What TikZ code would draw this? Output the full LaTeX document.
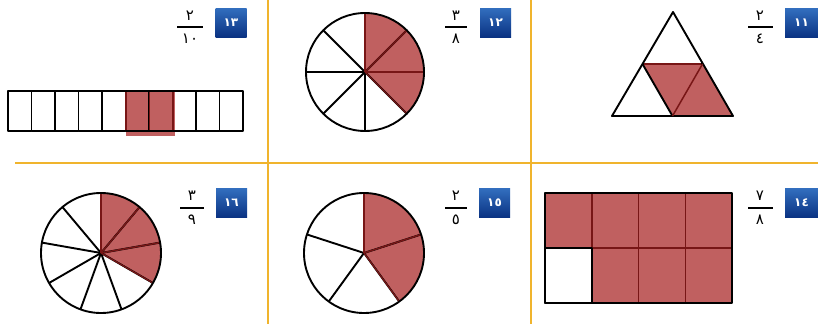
\documentclass[tikz,border=0pt]{standalone}
\usepackage{fontspec}
\newfontfamily\arabicfont[Script=Arabic]{DejaVu Sans}
\definecolor{gold}{RGB}{240,180,45}
\definecolor{fracred}{RGB}{192,96,96}
\definecolor{dred}{RGB}{120,22,22}
\definecolor{btop}{RGB}{50,110,190}
\definecolor{bbot}{RGB}{10,50,130}
\tikzset{
  figline/.style={line width=1.9pt, line join=round},
  redline/.style={line width=1.5pt, draw=dred},
  goldline/.style={line width=2.8pt, draw=gold},
  badge/.style={draw=none, top color=btop, bottom color=bbot, minimum width=31pt,
    minimum height=29pt, inner sep=0pt, text=white,
    font=\arabicfont\bfseries\fontsize{12}{12}\selectfont},
  num/.style={font=\arabicfont\fontsize{15}{15}\selectfont, inner sep=0pt},
  fracbar/.style={line width=1.3pt},
}
\begin{document}
\begin{tikzpicture}[x=1pt,y=-1pt]
\useasboundingbox (0,0) rectangle (818,324);
\fill[white] (0,0) rectangle (818,324);

% grid lines
\draw[goldline] (15,163) -- (818,163);
\draw[goldline] (268,0) -- (268,324);
\draw[goldline] (531,0) -- (531,324);

% badges
\node[badge] (b13) at (231,22.5) {١٣};
\node[badge] (b12) at (495.5,22.5) {١٢};
\node[badge, minimum width=33pt] (b11) at (801.5,23) {١١};
\node[badge] (b16) at (231.5,203) {١٦};
\node[badge] (b15) at (494.5,203) {١٥};
\node[badge, minimum width=33pt] (b14) at (801.5,203) {١٤};

% fractions
\node[num] (n13) at (190,16) {٢};
\draw[fracbar] (177,27) -- (203,27);
\node[num] (d13) at (190,38.5) {١٠};
\node[num] (n12) at (456,16) {٣};
\draw[fracbar] (445,27) -- (467,27);
\node[num] (d12) at (456,38.5) {٨};
\node[num] (n11) at (760,16) {٢};
\draw[fracbar] (748,27) -- (773,27);
\node[num] (d11) at (760,38.5) {٤};
\node[num] (n16) at (192,196) {٣};
\draw[fracbar] (180,208) -- (204,208);
\node[num] (d16) at (192,220) {٩};
\node[num] (n15) at (456,196) {٢};
\draw[fracbar] (445,208) -- (467,208);
\node[num] (d15) at (456,220) {٥};
\node[num] (n14) at (760,196) {٧};
\draw[fracbar] (748,208) -- (773,208);
\node[num] (d14) at (760,220) {٨};

% 13: strip of ten
\fill[fracred] (126,91) rectangle (175,136);
\foreach \i in {0,...,9} {
  \draw[figline] ({8+23.5*\i},91) rectangle ({8+23.5*(\i+1)},131);
}
\draw[redline] (149.5,92) -- (149.5,130);
\draw[line width=1.3pt, draw=dred] (126,92) -- (126,130);
\draw[line width=1.3pt, draw=dred] (173,92) -- (173,130);

% 12: circle of eight
\begin{scope}[shift={(365,72)}, yscale=-1]
  \fill[fracred] (0,0) -- (90:59) arc[start angle=90, end angle=-45, radius=59] -- cycle;
  \draw[figline] (0,0) circle[radius=59];
  \foreach \a in {0,45,...,315} { \draw[figline] (0,0) -- (\a:59); }
  \draw[redline] (0,0) -- (45:58);
  \draw[redline] (0,0) -- (0:58);
  \draw[line width=1.3pt, draw=dred] (0,0) -- (90:58);
  \draw[line width=1.3pt, draw=dred] (0,0) -- (-45:58);
\end{scope}

% 11: triangle of four
\fill[fracred] (642.5,64) -- (702.5,64) -- (733,116) -- (672.5,116) -- cycle;
\draw[figline] (673,12) -- (612,116) -- (733,116) -- cycle;
\draw[figline] (642.5,64) -- (702.5,64);
\draw[figline] (642.5,64) -- (672.5,116);
\draw[redline] (702.5,64) -- (672.5,116);
\draw[line width=1.3pt, draw=dred] (644,64) -- (701,64);

% 16: circle of nine
\begin{scope}[shift={(101,253)}, yscale=-1]
  \fill[fracred] (0,0) -- (90:60) arc[start angle=90, end angle=-30, radius=60] -- cycle;
  \draw[figline] (0,0) circle[radius=60];
  \foreach \a in {90,50,...,-230} { \draw[figline] (0,0) -- (\a:60); }
  \draw[redline] (0,0) -- (50:59);
  \draw[redline] (0,0) -- (10:59);
  \draw[line width=1.3pt, draw=dred] (0,0) -- (90:59);
  \draw[line width=1.3pt, draw=dred] (0,0) -- (-30:59);
\end{scope}

% 15: circle of five
\begin{scope}[shift={(364,253)}, yscale=-1]
  \fill[fracred] (0,0) -- (90:60) arc[start angle=90, end angle=-54, radius=60] -- cycle;
  \draw[figline] (0,0) circle[radius=60];
  \foreach \a in {90,18,-54,-126,-198} { \draw[figline] (0,0) -- (\a:60); }
  \draw[redline] (0,0) -- (18:59);
  \draw[line width=1.3pt, draw=dred] (0,0) -- (90:59);
  \draw[line width=1.3pt, draw=dred] (0,0) -- (-54:59);
\end{scope}

% 14: rectangle of eight
\fill[fracred] (545,193) rectangle (732,303);
\fill[white] (545,248) rectangle (591.75,303);
\foreach \i in {1,2,3} {
  \draw[redline] ({545+46.75*\i},193) -- ({545+46.75*\i},303);
}
\draw[redline] (545,248) -- (732,248);
\draw[figline] (545,248) rectangle (591.75,303);
\draw[figline] (545,193) rectangle (732,303);
\end{tikzpicture}
\end{document}
